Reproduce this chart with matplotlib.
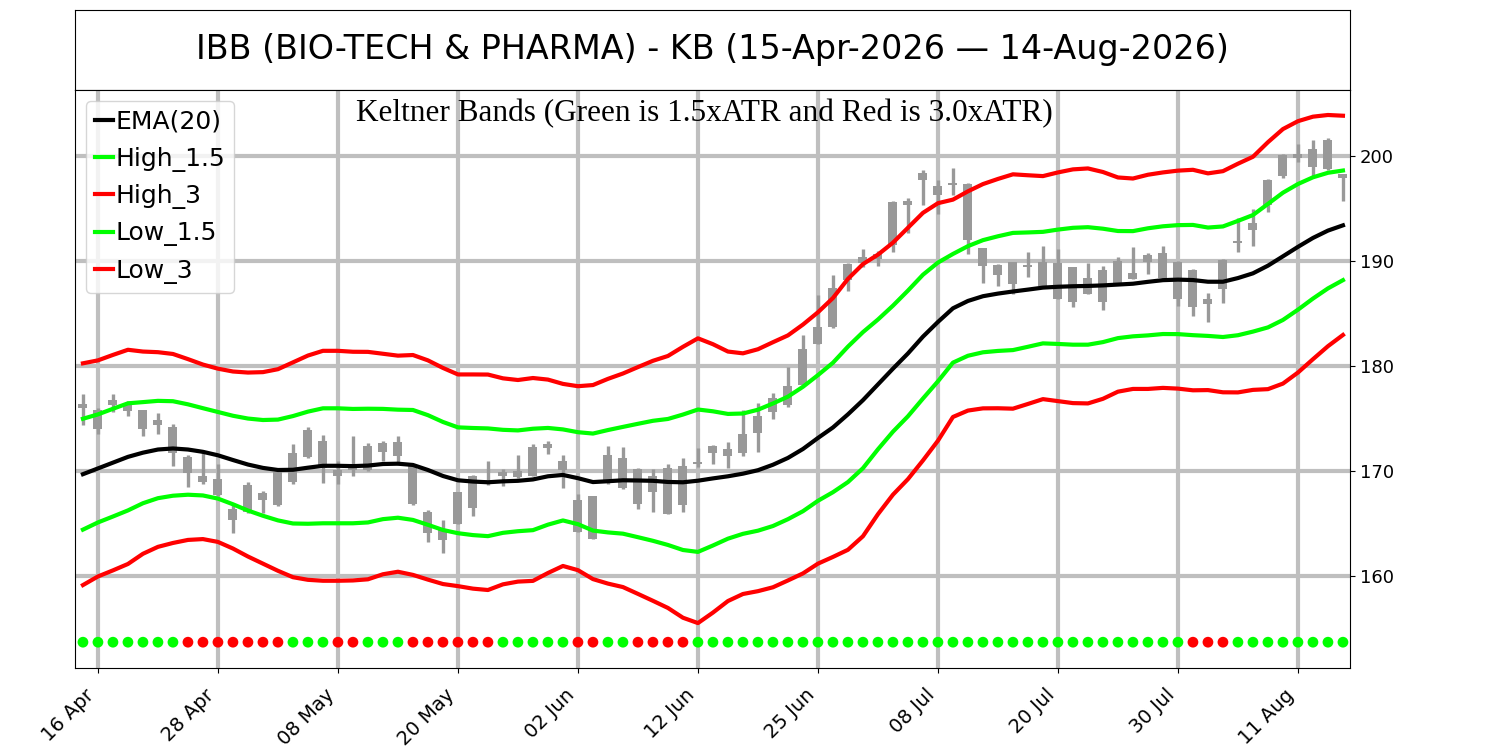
import matplotlib
matplotlib.use('Agg')
import matplotlib.pyplot as plt
import numpy as np
import pandas as pd

# ---------------- data ----------------
holidays = ['2026-05-25', '2026-06-19', '2026-07-03']
dates = pd.bdate_range('2026-04-15', '2026-08-14')
dates = dates[~dates.isin(pd.to_datetime(holidays))]

high = [177.3, 176.0, 177.3, 176.7, 175.8, 175.5, 174.5, 171.5, 171.9, 170.7,
        166.9, 169.0, 168.1, 170.2, 172.6, 174.2, 173.4, 171.0, 173.3, 172.7,
        172.9, 173.3, 170.7, 166.3, 165.3, 168.0, 169.6, 170.95, 170.2, 171.5,
        172.6, 172.9, 171.5, 167.8, 167.6, 172.4, 172.3, 170.3, 170.2, 170.7,
        171.2, 172.2, 172.5, 172.8, 175.8, 176.5, 177.4, 179.9, 183.0, 186.8,
        188.7, 189.8, 191.1, 191.0, 195.7, 196.0, 198.7, 197.7, 198.9, 197.4,
        191.2, 189.7, 189.9, 190.9, 191.4, 191.1, 189.4, 189.8, 189.5, 190.35,
        191.3, 190.8, 191.4, 190.0, 189.2, 187.0, 190.2, 194.06, 195.0, 197.8,
        200.2, 201.1, 201.5, 201.7, 198.25]
low = [174.4, 173.5, 175.6, 175.2, 173.3, 173.5, 170.5, 168.5, 168.8, 167.6,
       164.1, 166.0, 166.0, 166.7, 168.8, 171.2, 168.9, 168.8, 169.5, 170.0,
       171.0, 170.6, 166.8, 163.2, 162.2, 165.0, 165.7, 168.7, 168.6, 169.3,
       169.5, 171.6, 168.4, 164.2, 163.5, 168.8, 168.3, 166.4, 166.1, 165.9,
       166.1, 170.4, 170.7, 170.3, 171.4, 171.8, 175.0, 176.1, 178.1, 182.1,
       183.6, 187.1, 189.4, 189.5, 190.9, 192.7, 195.3, 194.5, 196.3, 190.7,
       187.9, 187.6, 186.9, 188.5, 187.6, 186.4, 185.6, 186.9, 185.3, 187.9,
       188.3, 188.8, 188.35, 185.7, 184.8, 184.2, 186.0, 190.9, 191.4, 194.7,
       197.9, 199.46, 198.0, 198.7, 195.7]
open_ = [176.4, 175.8, 176.3, 176.4, 175.8, 174.9, 174.2, 171.3, 169.5, 169.2,
         166.4, 166.1, 167.2, 166.8, 169.0, 171.3, 172.9, 170.1, 170.1, 170.1,
         171.8, 172.8, 170.6, 166.1, 164.4, 165.0, 166.5, 169.1, 169.5, 169.4,
         169.5, 172.2, 170.95, 167.2, 167.6, 169.0, 171.2, 170.2, 168.0, 170.3,
         166.8, 170.7, 171.7, 172.1, 171.7, 173.6, 175.6, 176.3, 178.2, 182.1,
         183.7, 188.2, 189.8, 190.2, 191.5, 195.3, 197.7, 197.1, 197.2, 197.3,
         191.2, 189.6, 189.9, 189.4, 189.9, 189.84, 189.4, 188.35, 186.1, 187.9,
         188.9, 189.9, 188.4, 189.9, 189.1, 185.9, 187.3, 191.7, 192.95, 195.3,
         198.1, 199.8, 199.0, 198.8, 198.25]
close = [176.0, 174.0, 176.8, 175.7, 174.0, 174.4, 171.7, 169.8, 169.0, 167.7,
         165.3, 168.7, 167.9, 169.9, 171.7, 173.9, 170.3, 169.5, 170.4, 172.4,
         172.7, 171.4, 166.9, 164.1, 163.4, 168.0, 169.5, 168.8, 169.9, 170.0,
         172.3, 172.6, 170.1, 164.2, 163.5, 171.5, 168.4, 166.9, 169.5, 165.9,
         170.5, 170.9, 172.4, 171.4, 173.5, 175.2, 177.0, 178.1, 181.6, 183.7,
         187.4, 189.7, 190.4, 190.7, 195.6, 195.7, 198.35, 196.3, 197.4, 192.0,
         189.5, 188.7, 187.8, 189.6, 187.6, 186.4, 186.1, 186.9, 189.1, 190.0,
         188.3, 190.6, 190.8, 186.4, 185.65, 186.4, 190.1, 191.9, 193.65, 197.7,
         200.1, 200.2, 200.7, 201.5, 197.9]

ema20 = [169.7, 170.25, 170.8, 171.35, 171.75, 172.05, 172.15, 172.05, 171.83, 171.5,
         171.05, 170.62, 170.3, 170.1, 170.12, 170.32, 170.5, 170.5, 170.47, 170.52,
         170.67, 170.7, 170.58, 170.1, 169.53, 169.12, 169.0, 168.93, 169.02, 169.07,
         169.2, 169.5, 169.63, 169.32, 168.95, 169.03, 169.12, 169.1, 169.07, 168.96,
         168.93, 169.08, 169.3, 169.5, 169.75, 170.08, 170.6, 171.25, 172.1, 173.15,
         174.15, 175.4, 176.75, 178.25, 179.75, 181.2, 182.8, 184.2, 185.5, 186.2,
         186.65, 186.9, 187.1, 187.28, 187.47, 187.55, 187.6, 187.63, 187.68, 187.76,
         187.84, 188.02, 188.18, 188.23, 188.19, 188.03, 188.03, 188.38, 188.83, 189.56,
         190.45, 191.35, 192.2, 192.9, 193.4]
atr = [3.52, 3.43, 3.42, 3.40, 3.21, 3.09, 3.00, 2.87, 2.77, 2.75,
       2.81, 2.92, 3.04, 3.20, 3.41, 3.56, 3.65, 3.65, 3.63, 3.61,
       3.50, 3.43, 3.49, 3.48, 3.43, 3.36, 3.40, 3.42, 3.27, 3.20,
       3.22, 3.07, 2.89, 2.92, 3.08, 3.25, 3.39, 3.60, 3.81, 4.00,
       4.30, 4.52, 4.26, 3.96, 3.82, 3.84, 3.89, 3.89, 3.95, 3.99,
       4.11, 4.30, 4.32, 4.12, 4.00, 3.99, 3.93, 3.77, 3.45, 3.48,
       3.56, 3.64, 3.72, 3.63, 3.54, 3.63, 3.71, 3.73, 3.60, 3.40,
       3.34, 3.40, 3.42, 3.46, 3.50, 3.44, 3.51, 3.63, 3.70, 3.92,
       4.04, 3.99, 3.85, 3.67, 3.48]

# squeeze dots: 1 = red, 0 = green
squeeze = [0, 0, 0, 0, 0, 0, 0, 1, 1, 1, 1, 1, 1, 1, 0, 0, 0, 1, 1, 0,
           0, 0, 1, 1, 1, 1, 1, 1, 0, 0, 0, 0, 0, 1, 1, 0, 0, 1, 1, 1,
           1, 0, 0, 0, 0, 0, 0, 0, 0, 0, 0, 0, 0, 0, 0, 0, 0, 0, 0, 0,
           0, 0, 0, 0, 0, 0, 0, 0, 0, 0, 0, 0, 0, 0, 1, 1, 1, 0, 0, 0,
           0, 0, 0, 0, 0]
dot_level = 153.7

tick_labels = ['16 Apr', '28 Apr', '08 May', '20 May', '02 Jun', '12 Jun',
               '25 Jun', '08 Jul', '20 Jul', '30 Jul', '11 Aug']
y_ticks = [160, 170, 180, 190, 200]

title = 'IBB (BIO-TECH & PHARMA) - KB (15-Apr-2026 \u2014 14-Aug-2026)'
subtitle = 'Keltner Bands (Green is 1.5xATR and Red is 3.0xATR)'

# ---------------- derived ----------------
x = np.arange(len(dates))
ema = np.array(ema20)
a = np.array(atr)
high_15 = ema + 1.5 * a
low_15 = ema - 1.5 * a
high_3 = ema + 3.0 * a
low_3 = ema - 3.0 * a
o = np.array(open_); c = np.array(close)
body_bot = np.minimum(o, c)
body_h = np.maximum(np.abs(c - o), 0.15)
date_str = [d.strftime('%d %b') for d in dates]
tick_pos = [date_str.index(t) for t in tick_labels]

# ---------------- figure ----------------
fig = plt.figure(figsize=(15, 7.5), dpi=100)
tax = fig.add_axes([0.05, 0.88, 0.85, 0.1067])
tax.set_xticks([]); tax.set_yticks([])
tax.text(0.5, 0.5, title, ha='center', va='center', fontsize=24,
         transform=tax.transAxes)

ax = fig.add_axes([0.05, 0.1093, 0.85, 0.7707])
grid_c = '#bfbfbf'
ax.grid(True, color=grid_c, linewidth=3, zorder=0)
ax.set_axisbelow(True)

candle_c = '#999999'
ax.vlines(x, low, high, color=candle_c, linewidth=2.4, zorder=2)
ax.bar(x, body_h, bottom=body_bot, width=0.6, color=candle_c, zorder=2)

ax.plot(x, ema, color='black', lw=3, zorder=3, label='EMA(20)')
ax.plot(x, high_15, color='#00ff00', lw=3, zorder=3, label='High_1.5')
ax.plot(x, high_3, color='#ff0000', lw=3, zorder=3, label='High_3')
ax.plot(x, low_15, color='#00ff00', lw=3, zorder=3, label='Low_1.5')
ax.plot(x, low_3, color='#ff0000', lw=3, zorder=3, label='Low_3')

dot_colors = ['#ff0000' if s else '#00ff00' for s in squeeze]
ax.scatter(x, [dot_level] * len(x), c=dot_colors, s=60, zorder=4, linewidths=0)

ax.set_xlim(-0.53, 84.47)
ax.set_ylim(151.24, 206.29)
ax.set_xticks(tick_pos)
ax.set_xticklabels(tick_labels, rotation=45, ha='right', fontsize=14)
ax.tick_params(axis='x', pad=9)
ax.set_yticks(y_ticks)
ax.yaxis.tick_right()
ax.tick_params(axis='y', labelsize=13)

ax.text(0.494, 0.984, subtitle, transform=ax.transAxes, ha='center', va='top',
        fontsize=22.5, family=['Liberation Serif', 'DejaVu Serif'])

leg = ax.legend(loc='upper left', fontsize=18, handlelength=0.7,
                handletextpad=0.1, labelspacing=0.5, borderpad=0.35,
                borderaxespad=0.45)

fig.savefig('out.png', dpi=100)
